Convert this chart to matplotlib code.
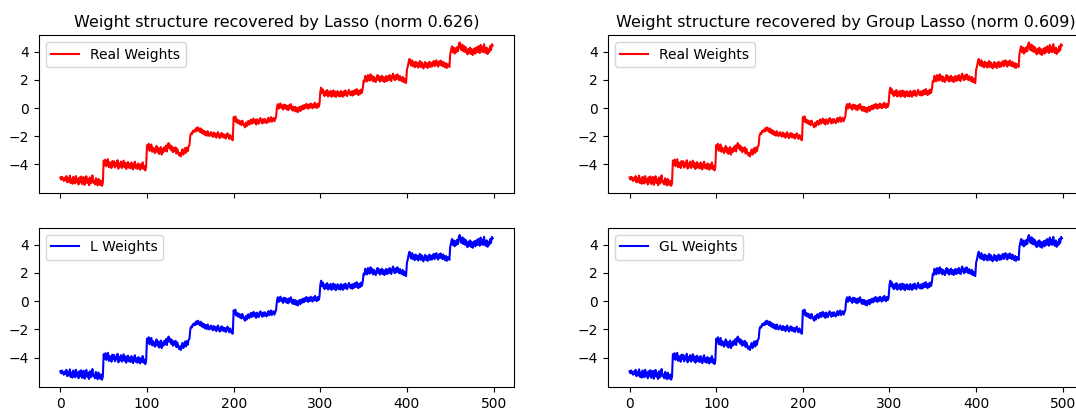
import numpy as np
import matplotlib.pyplot as plt


# Values, one list per block of 50 weights
SEG0 = [-4.95, -5.10, -4.90, -5.05, -5.20, -4.98, -5.15, -4.85, -5.30, -5.00,
        -5.25, -4.82, -5.35, -5.05, -5.40, -4.90, -5.20, -5.38, -4.85, -5.28,
        -5.05, -5.45, -4.95, -5.30, -4.88, -5.42, -5.10, -4.92, -5.48, -5.12,
        -4.86, -5.35, -5.08, -5.50, -4.95, -5.38, -5.15, -4.80, -5.32, -5.20,
        -5.45, -5.00, -5.30, -5.52, -5.05, -5.40, -5.48, -5.18, -5.55, -5.35]
SEG1 = [-3.75, -4.05, -3.68, -4.15, -3.82, -3.65, -4.22, -3.88, -4.02, -4.28,
        -3.78, -4.10, -3.80, -4.25, -3.92, -4.12, -3.72, -4.32, -3.95, -4.18,
        -3.82, -4.28, -4.00, -3.75, -4.22, -3.90, -4.35, -4.08, -3.85, -4.25,
        -3.98, -4.30, -3.88, -4.18, -4.38, -4.00, -3.82, -4.28, -4.05, -4.35,
        -3.95, -4.22, -4.40, -4.02, -4.30, -3.88, -4.35, -4.12, -4.45, -4.20]
SEG2 = [-2.65, -2.90, -2.55, -3.05, -2.75, -2.60, -3.12, -2.82, -2.95, -3.22,
        -2.92, -2.70, -3.15, -2.85, -3.28, -3.00, -2.78, -3.32, -2.92, -3.15,
        -2.80, -3.05, -2.68, -3.10, -2.62, -2.50, -2.88, -2.65, -3.02, -2.75,
        -3.15, -2.85, -3.08, -2.80, -3.25, -2.92, -3.15, -3.38, -3.20, -3.45,
        -3.12, -2.95, -3.32, -3.05, -2.85, -3.20, -2.82, -3.08, -2.75, -2.65]
SEG3 = [-1.98, -1.80, -1.85, -1.62, -1.70, -1.55, -1.68, -1.42, -1.62, -1.38,
        -1.58, -1.70, -1.45, -1.78, -1.55, -1.85, -1.62, -1.92, -1.70, -1.98,
        -1.65, -1.88, -2.00, -1.78, -1.72, -1.98, -2.05, -1.75, -2.02, -1.82,
        -2.12, -1.85, -1.72, -2.02, -2.15, -1.88, -1.78, -2.08, -1.85, -2.12,
        -1.90, -2.18, -1.92, -1.80, -2.08, -2.20, -1.92, -2.12, -2.25, -2.30]
SEG4 = [-0.65, -0.90, -0.60, -1.02, -0.82, -1.08, -0.88, -1.15, -0.95, -1.22,
        -0.90, -1.10, -1.25, -1.38, -1.05, -1.30, -1.00, -0.92, -1.20, -0.98,
        -0.82, -1.12, -0.90, -0.75, -1.08, -0.85, -1.18, -0.80, -1.02, -1.12,
        -0.82, -0.72, -1.00, -1.10, -0.80, -1.05, -0.78, -0.95, -1.08, -0.85,
        -0.70, -1.00, -0.82, -0.65, -0.98, -0.80, -0.70, -0.95, -0.78, -0.62]
SEG5 = [0.05, 0.28, -0.05, 0.22, 0.32, 0.00, 0.18, -0.12, 0.25, -0.02,
        0.22, -0.10, 0.15, -0.15, 0.20, -0.05, 0.28, 0.05, -0.18, 0.10,
        -0.20, 0.08, -0.25, 0.02, -0.30, -0.05, 0.08, -0.22, 0.12, -0.10,
        0.18, -0.08, 0.22, 0.00, 0.30, 0.05, -0.05, 0.25, 0.02, 0.32,
        0.08, -0.02, 0.28, 0.05, 0.38, 0.10, 0.00, 0.30, 0.08, 0.25]
SEG6 = [1.15, 1.45, 1.05, 1.32, 0.98, 0.85, 1.20, 0.92, 1.28, 0.82,
        1.12, 0.90, 1.22, 0.80, 1.10, 1.25, 0.85, 1.18, 0.78, 1.05,
        1.20, 0.85, 1.12, 0.82, 1.22, 0.95, 0.80, 1.18, 0.90, 1.25,
        1.00, 0.85, 1.10, 1.30, 1.02, 0.92, 1.18, 0.88, 1.22, 0.95,
        1.28, 1.00, 1.35, 1.05, 0.92, 1.25, 1.00, 1.32, 1.08, 1.38]
SEG7 = [1.95, 1.85, 2.30, 2.05, 1.90, 2.35, 2.10, 1.95, 2.40, 2.02,
        2.28, 1.90, 2.22, 1.98, 1.85, 2.18, 2.35, 1.98, 2.25, 1.88,
        2.18, 2.30, 1.92, 2.20, 1.85, 2.15, 2.28, 1.92, 2.25, 1.98,
        2.35, 2.05, 1.92, 2.30, 2.45, 2.10, 1.98, 2.32, 2.05, 2.40,
        2.12, 1.98, 2.28, 2.05, 1.92, 2.22, 1.85, 2.10, 1.82, 1.78]
SEG8 = [2.75, 2.95, 3.30, 3.50, 3.15, 3.02, 3.40, 2.98, 3.25, 2.90,
        3.30, 2.98, 3.22, 2.88, 3.18, 3.35, 2.92, 3.25, 2.98, 2.82,
        3.15, 3.28, 2.92, 3.20, 2.85, 3.12, 3.30, 2.92, 3.22, 2.95,
        3.25, 3.35, 2.98, 3.30, 3.40, 3.05, 2.95, 3.32, 3.05, 3.38,
        3.10, 2.98, 3.30, 3.02, 2.90, 3.20, 2.85, 3.12, 3.05, 2.92]
SEG9 = [3.85, 4.15, 4.40, 3.98, 4.30, 3.88, 4.25, 3.98, 4.35, 4.05,
        4.55, 4.68, 4.25, 4.12, 4.52, 4.05, 4.42, 4.00, 4.32, 3.95,
        3.82, 4.22, 3.92, 4.30, 3.85, 4.18, 3.78, 4.12, 4.25, 3.88,
        4.30, 3.98, 4.40, 4.08, 3.92, 4.50, 4.02, 4.35, 3.98, 4.55,
        4.10, 3.92, 4.30, 3.85, 4.18, 3.98, 4.40, 4.12, 4.55, 4.45]

REAL_W = np.array(SEG0 + SEG1 + SEG2 + SEG3 + SEG4 + SEG5 + SEG6 + SEG7 + SEG8 + SEG9)
# the recovered weights look the same as the real ones at this resolution
L_W = REAL_W.copy()
GL_W = REAL_W.copy()

TITLES = ['Weight structure recovered by Lasso (norm 0.626)',
          'Weight structure recovered by Group Lasso (norm 0.609)']


#Plot
fig = plt.figure(figsize=(10.76, 4.09), dpi=100)

ax1 = fig.add_axes([0.036, 0.528, 0.442, 0.386])
ax2 = fig.add_axes([0.036, 0.054, 0.442, 0.389], sharex=ax1)
ax3 = fig.add_axes([0.565, 0.528, 0.442, 0.386])
ax4 = fig.add_axes([0.565, 0.054, 0.442, 0.389], sharex=ax3)

ax1.plot(REAL_W, color='red', label='Real Weights')
ax1.set_title(TITLES[0], fontsize=11.5)
ax2.plot(L_W, color='blue', label='L Weights')

ax3.plot(REAL_W, color='red', label='Real Weights')
ax3.set_title(TITLES[1], fontsize=11.5)
ax4.plot(GL_W, color='blue', label='GL Weights')

for ax in (ax1, ax2, ax3, ax4):
    ax.legend(loc='upper left')
    ax.set_yticks([-4, -2, 0, 2, 4])
for ax in (ax1, ax3):
    plt.setp(ax.get_xticklabels(), visible=False)

fig.savefig('out.png', dpi=100)
